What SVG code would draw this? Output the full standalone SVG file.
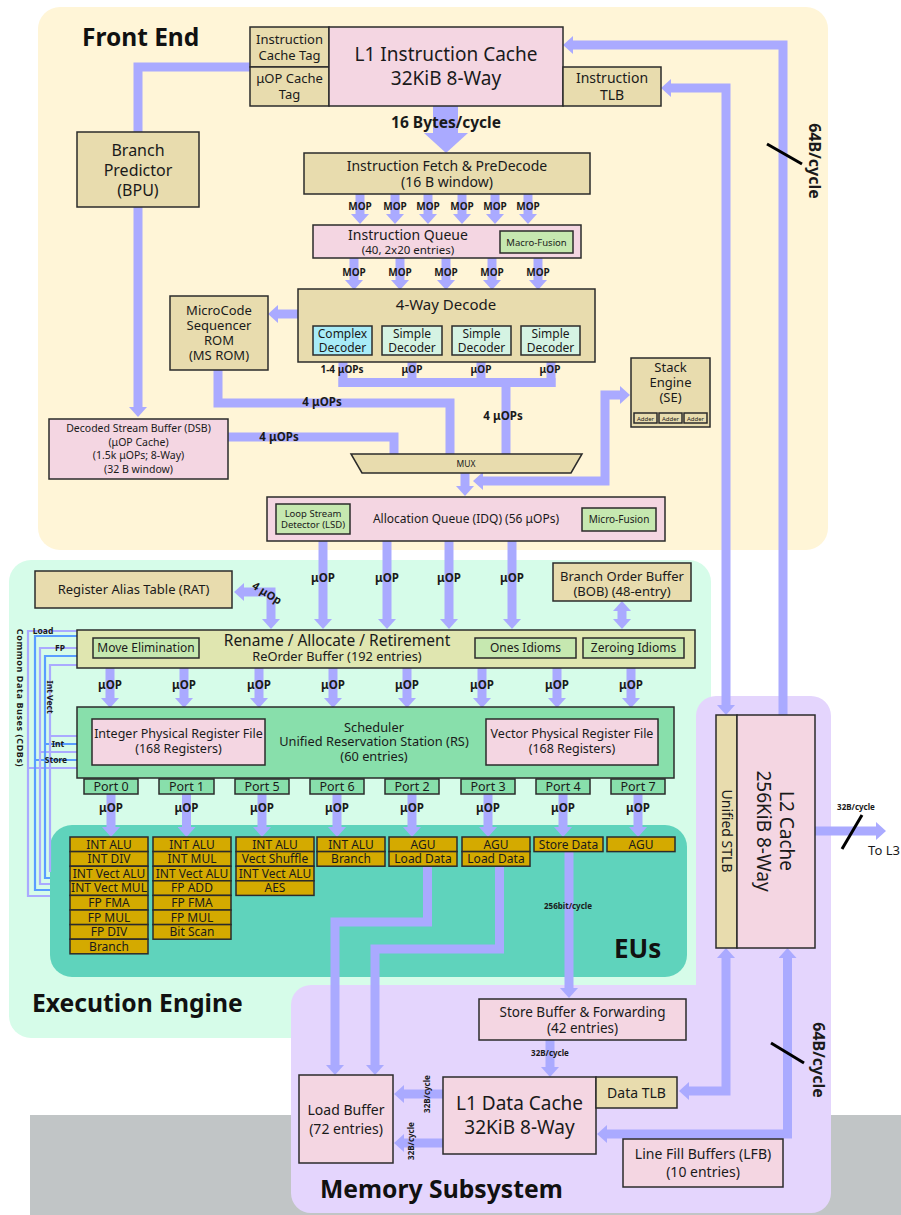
<svg xmlns="http://www.w3.org/2000/svg" width="901" height="1215" viewBox="0 0 901 1215">
<style>
text{font-family:"Noto Sans","DejaVu Sans",sans-serif;fill:#1a1a1a;text-anchor:middle}
.b{font-weight:700}
.s{stroke:#2b2b2b;stroke-width:1.5}
.tan{fill:#e8dcae}
.pink{fill:#f4d6e2}
.grn{fill:#c6e8b0}
.eu rect{fill:#d4aa00;stroke:#2b2b2b;stroke-width:1.5}
.eu text{font-size:12px}
.c{fill:none;stroke:#aaf;stroke-width:9;stroke-linejoin:miter}
.a{marker-end:url(#ah)}
.aa{marker-start:url(#ah);marker-end:url(#ah)}
.cdb{fill:none;stroke-width:2.2}
.lv{stroke:#aaf}
.bl{stroke:#5a9dff}
.sl{stroke:#000;stroke-width:3}
.port{fill:#88dfab;stroke:#2b2b2b;stroke-width:1.5}
.ttl{font-weight:700;text-anchor:start;fill:#111}
</style>
<defs>
<marker id="ah" markerUnits="userSpaceOnUse" markerWidth="10" markerHeight="18" viewBox="0 0 10 18" refX="0" refY="9" orient="auto-start-reverse">
<path d="M0,0 L10,9 L0,18 Z" fill="#aaf"/>
</marker>
</defs>

<!-- background regions -->
<g id="regions">
<rect x="30" y="1115" width="871" height="100" fill="#c1c5c6"/>
<rect x="38" y="7" width="790" height="543" rx="22" fill="#fff5d7"/>
<rect x="9" y="560" width="702" height="478" rx="22" fill="#d6fce9"/>
<rect x="50" y="825" width="637" height="152" rx="22" fill="#5fd3bc"/>
<path d="M716,696 H811 A20,20 0 0 1 831,716 V1193 A20,20 0 0 1 811,1213 H311 A20,20 0 0 1 291,1193 V1005 A20,20 0 0 1 311,985 H696 V716 A20,20 0 0 1 716,696 Z" fill="#e4d5fd"/>
<text class="ttl" x="82" y="46" font-size="24.5">Front End</text>
<text class="ttl" x="32" y="1012" font-size="24.7">Execution Engine</text>
<text class="ttl" x="320" y="1198" font-size="24.7">Memory Subsystem</text>
<text class="ttl" x="614" y="958" font-size="26">EUs</text>
</g>

<!-- connectors -->
<g id="connectors">
<!-- front end -->
<path class="c" d="M138,132 V67 H250" stroke-width="10"/>
<path class="c a" d="M138,207 V407" stroke-width="10"/>
<rect x="433" y="106" width="25" height="28" fill="#aaf"/>
<polygon points="424,133 468,133 446,153" fill="#aaf"/>
<path class="c a" d="M360,194 V214"/><path class="c a" d="M395,194 V214"/><path class="c a" d="M428,194 V214"/>
<path class="c a" d="M462,194 V214"/><path class="c a" d="M495,194 V214"/><path class="c a" d="M528,194 V214"/>
<path class="c a" d="M354,258 V280"/><path class="c a" d="M400,258 V280"/><path class="c a" d="M446,258 V280"/>
<path class="c a" d="M492,258 V280"/><path class="c a" d="M538,258 V280"/>
<path class="c a" d="M298,314 H278"/>
<path class="c" d="M218,370 V403 H450 V454"/>
<path class="c" d="M228,437 H394 V454"/>
<path class="c" d="M343,362 V387 M412,362 V387 M481,362 V387 M551,362 V387"/>
<path class="c" d="M338.5,382.5 H555.5"/>
<path class="c" d="M506,382 V454"/>
<path class="c a" d="M465,473 V486"/>
<path class="c aa" d="M483,481 H605 V395 H620"/>
<path class="c a" d="M783,715 V45 H573" stroke-width="8.5"/>
<path class="c aa" d="M726,705 V88 H671" stroke-width="8.5"/>
<!-- execution engine -->
<path class="c a" d="M323,541 V619"/><path class="c a" d="M387,541 V619"/>
<path class="c a" d="M449,541 V619"/><path class="c a" d="M512,541 V619"/>
<path class="c aa" d="M271,619 V592 H244" stroke-width="10"/>
<path class="c aa" d="M622,611 V619" stroke-width="8"/>
<path class="c a" d="M110,668 V698"/><path class="c a" d="M184,668 V698"/><path class="c a" d="M259,668 V698"/>
<path class="c a" d="M333,668 V698"/><path class="c a" d="M407,668 V698"/><path class="c a" d="M482,668 V698"/>
<path class="c a" d="M557,668 V698"/><path class="c a" d="M631,668 V698"/>
<path class="c a" d="M111,794 V827"/><path class="c a" d="M186.5,794 V827"/><path class="c a" d="M262,794 V827"/>
<path class="c a" d="M337,794 V827"/><path class="c a" d="M412,794 V827"/><path class="c a" d="M488,794 V827"/>
<path class="c a" d="M563,794 V827"/><path class="c a" d="M638,794 V827"/>
<!-- common data buses -->
<path class="cdb lv" d="M77,631 H28 V896 H50 M28,768 H77"/>
<path class="cdb bl" d="M77,636 H35 V890 H50 M35,760 H77"/>
<path class="cdb lv" d="M77,648 H40 V884 H50 M40,752 H77"/>
<path class="cdb bl" d="M77,656 H45 V878 H50 M45,744 H77"/>
<path class="cdb lv" d="M77,665 H50 V872 M50,736 H77"/>
<!-- load / store paths -->
<path class="c a" d="M427.5,867 V922 H335 V1065"/>
<path class="c a" d="M499.5,867 V949 H375 V1065"/>
<path class="c a" d="M569,852 V988"/>
<path class="c a" d="M550,1040 V1067"/>
<path class="c a" d="M443,1094 H404"/>
<path class="c a" d="M443,1143 H404"/>
<path class="c aa" d="M726,958 V1091 H689" stroke-width="8.5"/>
<path class="c aa" d="M787.5,958 V1134 H607" stroke-width="8.5"/>
<path class="c a" d="M815,831 H876"/>
<!-- bandwidth slashes -->
<line class="sl" x1="767" y1="144" x2="802" y2="164"/>
<line class="sl" x1="771" y1="1043" x2="804" y2="1063"/>
<line class="sl" x1="862" y1="815" x2="842" y2="849" stroke-width="2.5"/>
<!-- connector labels -->
<text class="b" x="446" y="128" font-size="15.5">16 Bytes/cycle</text>
<g class="b" font-size="10">
<text x="360" y="210">MOP</text><text x="395" y="210">MOP</text><text x="428" y="210">MOP</text>
<text x="462" y="210">MOP</text><text x="495" y="210">MOP</text><text x="528" y="210">MOP</text>
<text x="354" y="276">MOP</text><text x="400" y="276">MOP</text><text x="446" y="276">MOP</text>
<text x="492" y="276">MOP</text><text x="538" y="276">MOP</text>
<text x="342" y="373">1-4 μOPs</text><text x="412" y="373">μOP</text>
<text x="481" y="373">μOP</text><text x="550" y="373">μOP</text>
</g>
<g class="b" font-size="11.5">
<text x="322" y="406">4 μOPs</text>
<text x="279" y="441">4 μOPs</text>
<text x="503" y="420">4 μOPs</text>
<text x="323" y="582">μOP</text><text x="387" y="582">μOP</text>
<text x="449" y="582">μOP</text><text x="512" y="582">μOP</text>
<text x="110" y="689">μOP</text><text x="184" y="689">μOP</text><text x="259" y="689">μOP</text>
<text x="333" y="689">μOP</text><text x="407" y="689">μOP</text><text x="482" y="689">μOP</text>
<text x="557" y="689">μOP</text><text x="631" y="689">μOP</text>
<text x="111" y="812">μOP</text><text x="186.5" y="812">μOP</text><text x="262" y="812">μOP</text>
<text x="337" y="812">μOP</text><text x="412" y="812">μOP</text><text x="488" y="812">μOP</text>
<text x="563" y="812">μOP</text><text x="638" y="812">μOP</text>
</g>
<text class="b" font-size="11" transform="translate(267,593) rotate(32)" y="4">4 μOp</text>
<text class="b" font-size="16" transform="translate(815,161) rotate(90)" y="6">64B/cycle</text>
<text class="b" font-size="16" transform="translate(819,1060) rotate(90)" y="6">64B/cycle</text>
<g class="b" font-size="8.5">
<text x="43" y="634">Load</text>
<text x="60" y="651">FP</text>
<text x="58" y="747">Int</text>
<text x="56" y="763">Store</text>
<text transform="translate(50,697) rotate(90)" y="3">Int Vect</text>
<text transform="translate(20,698) rotate(90)" y="3" font-size="9" letter-spacing="0.6">Common Data Buses (CDBs)</text>
</g>
<g class="b" font-size="8">
<text x="568" y="909" fill="#333">256bit/cycle</text>
<text x="550" y="1056">32B/cycle</text>
<text transform="translate(427,1094) rotate(-90)" y="3">32B/cycle</text>
<text transform="translate(411,1141) rotate(-90)" y="3">32B/cycle</text>
<text x="856" y="810">32B/cycle</text>
</g>
<text x="884" y="855" font-size="13">To L3</text>
</g>

<!-- front end blocks -->
<g id="ic-tag"><rect class="s tan" x="250" y="27" width="79" height="40"/>
<text x="289.5" y="44" font-size="13">Instruction</text><text x="289.5" y="60" font-size="13">Cache Tag</text></g>
<g id="uop-tag"><rect class="s tan" x="250" y="67" width="79" height="39"/>
<text x="289.5" y="83" font-size="13">μOP Cache</text><text x="289.5" y="99" font-size="13">Tag</text></g>
<g id="l1i"><rect class="s pink" x="329" y="27" width="234" height="79"/>
<text x="446" y="61" font-size="19">L1 Instruction Cache</text><text x="446" y="85" font-size="19">32KiB 8-Way</text></g>
<g id="itlb"><rect class="s tan" x="563" y="67" width="98" height="39"/>
<text x="612" y="83" font-size="14">Instruction</text><text x="612" y="100" font-size="14">TLB</text></g>
<g id="bpu"><rect class="s tan" x="77" y="132" width="122" height="75"/>
<text x="138" y="156" font-size="16">Branch</text><text x="138" y="176" font-size="16">Predictor</text><text x="138" y="196" font-size="16">(BPU)</text></g>
<g id="fetch"><rect class="s tan" x="304" y="153" width="286" height="41"/>
<text x="447" y="171" font-size="14">Instruction Fetch &amp; PreDecode</text><text x="447" y="187" font-size="14">(16 B window)</text></g>
<g id="iq"><rect class="s pink" x="313" y="225" width="268" height="33"/>
<text x="408" y="239.5" font-size="14">Instruction Queue</text><text x="408" y="253.5" font-size="11.5">(40, 2x20 entries)</text>
<rect class="s grn" x="500" y="231" width="73" height="22"/><text x="536.5" y="245.5" font-size="9.5">Macro-Fusion</text></g>
<g id="decode"><rect class="s tan" x="298" y="289" width="297" height="73"/>
<text x="446" y="310" font-size="15">4-Way Decode</text>
<rect class="s" fill="#a8ecf8" x="313" y="326" width="59" height="29"/>
<text x="342.5" y="338" font-size="12">Complex</text><text x="342.5" y="352" font-size="12">Decoder</text>
<rect class="s" fill="#d5f3e3" x="382" y="326" width="60" height="29"/>
<text x="412" y="338" font-size="12">Simple</text><text x="412" y="352" font-size="12">Decoder</text>
<rect class="s" fill="#d5f3e3" x="452" y="326" width="59" height="29"/>
<text x="481.5" y="338" font-size="12">Simple</text><text x="481.5" y="352" font-size="12">Decoder</text>
<rect class="s" fill="#d5f3e3" x="521" y="326" width="59" height="29"/>
<text x="550.5" y="338" font-size="12">Simple</text><text x="550.5" y="352" font-size="12">Decoder</text></g>
<g id="msrom"><rect class="s tan" x="170" y="296" width="98" height="74"/>
<text x="219" y="315" font-size="13">MicroCode</text><text x="219" y="330" font-size="13">Sequencer</text>
<text x="219" y="345" font-size="13">ROM</text><text x="219" y="360" font-size="13">(MS ROM)</text></g>
<g id="dsb"><rect class="s pink" x="49" y="419" width="179" height="60"/>
<text x="138.5" y="432" font-size="10.5">Decoded Stream Buffer (DSB)</text><text x="138.5" y="446" font-size="10.5">(μOP Cache)</text>
<text x="138.5" y="459" font-size="10.5">(1.5k μOPs; 8-Way)</text><text x="138.5" y="473" font-size="10.5">(32 B window)</text></g>
<g id="mux"><polygon class="s tan" points="351,454 582,454 571,473 362,473"/>
<text x="466" y="467" font-size="8.5">MUX</text></g>
<g id="stack-engine"><rect class="s tan" x="631" y="358" width="79" height="69"/>
<text x="670.5" y="372" font-size="13">Stack</text><text x="670.5" y="387" font-size="13">Engine</text><text x="670.5" y="402" font-size="13">(SE)</text>
<rect class="s tan" x="634" y="413" width="23" height="10" stroke-width="1"/><text x="645.5" y="420.5" font-size="6">Adder</text>
<rect class="s tan" x="659" y="413" width="23" height="10" stroke-width="1"/><text x="670.5" y="420.5" font-size="6">Adder</text>
<rect class="s tan" x="684" y="413" width="23" height="10" stroke-width="1"/><text x="695.5" y="420.5" font-size="6">Adder</text></g>
<g id="idq"><rect class="s pink" x="267" y="497" width="398" height="44"/>
<text x="466" y="523" font-size="12">Allocation Queue (IDQ) (56 μOPs)</text>
<rect class="s grn" x="276" y="504" width="74" height="30"/>
<text x="313" y="517" font-size="9.5">Loop Stream</text><text x="313" y="528" font-size="9.5">Detector (LSD)</text>
<rect class="s grn" x="582" y="508" width="74" height="23"/><text x="619" y="523" font-size="10">Micro-Fusion</text></g>

<!-- execution engine blocks -->
<g id="rat"><rect class="s tan" x="35" y="571" width="197" height="37"/>
<text x="133.5" y="594" font-size="13">Register Alias Table (RAT)</text></g>
<g id="bob"><rect class="s tan" x="553" y="563" width="138" height="38"/>
<text x="622" y="581" font-size="13">Branch Order Buffer</text><text x="622" y="596" font-size="13">(BOB) (48-entry)</text></g>
<g id="rob"><rect class="s" fill="#e0e6b0" x="77" y="630" width="618" height="38"/>
<text x="337" y="645.5" font-size="15.5">Rename / Allocate / Retirement</text>
<text x="337" y="661" font-size="12.8">ReOrder Buffer (192 entries)</text>
<rect class="s grn" x="93" y="638" width="106" height="20"/><text x="146" y="652" font-size="12">Move Elimination</text>
<rect class="s grn" x="475" y="638" width="101" height="20"/><text x="525.5" y="652" font-size="12">Ones Idioms</text>
<rect class="s grn" x="583" y="638" width="101" height="20"/><text x="633.5" y="652" font-size="12">Zeroing Idioms</text></g>
<g id="rs"><rect class="s" fill="#88dfab" x="77" y="707" width="597" height="71"/>
<text x="374" y="731.5" font-size="12.8">Scheduler</text>
<text x="374" y="746" font-size="12.8">Unified Reservation Station (RS)</text>
<text x="374" y="760.5" font-size="12.8">(60 entries)</text>
<rect class="s pink" x="92" y="719" width="173" height="46"/>
<text x="178.5" y="738" font-size="12.5">Integer Physical Register File</text><text x="178.5" y="753" font-size="12.5">(168 Registers)</text>
<rect class="s pink" x="486" y="719" width="172" height="46"/>
<text x="572" y="738" font-size="12.5">Vector Physical Register File</text><text x="572" y="753" font-size="12.5">(168 Registers)</text></g>
<g id="ports" font-size="12.5">
<rect class="port" x="84" y="779" width="54" height="15"/><text x="111" y="791">Port 0</text>
<rect class="port" x="159" y="779" width="55" height="15"/><text x="186.5" y="791">Port 1</text>
<rect class="port" x="235" y="779" width="54" height="15"/><text x="262" y="791">Port 5</text>
<rect class="port" x="310" y="779" width="54" height="15"/><text x="337" y="791">Port 6</text>
<rect class="port" x="385" y="779" width="54" height="15"/><text x="412" y="791">Port 2</text>
<rect class="port" x="461" y="779" width="54" height="15"/><text x="488" y="791">Port 3</text>
<rect class="port" x="536" y="779" width="54" height="15"/><text x="563" y="791">Port 4</text>
<rect class="port" x="611" y="779" width="54" height="15"/><text x="638" y="791">Port 7</text>
</g>
<g id="eu-port0" class="eu">
<rect x="70" y="837" width="78" height="14.6"/><text x="109" y="848.5">INT ALU</text>
<rect x="70" y="851.6" width="78" height="14.6"/><text x="109" y="863.1">INT DIV</text>
<rect x="70" y="866.2" width="78" height="14.6"/><text x="109" y="877.7">INT Vect ALU</text>
<rect x="70" y="880.8" width="78" height="14.6"/><text x="109" y="892.3">INT Vect MUL</text>
<rect x="70" y="895.4" width="78" height="14.6"/><text x="109" y="906.9">FP FMA</text>
<rect x="70" y="910" width="78" height="14.6"/><text x="109" y="921.5">FP MUL</text>
<rect x="70" y="924.6" width="78" height="14.6"/><text x="109" y="936.1">FP DIV</text>
<rect x="70" y="939.2" width="78" height="14.6"/><text x="109" y="950.7">Branch</text>
</g>
<g id="eu-port1" class="eu">
<rect x="153" y="837" width="78" height="14.6"/><text x="192" y="848.5">INT ALU</text>
<rect x="153" y="851.6" width="78" height="14.6"/><text x="192" y="863.1">INT MUL</text>
<rect x="153" y="866.2" width="78" height="14.6"/><text x="192" y="877.7">INT Vect ALU</text>
<rect x="153" y="880.8" width="78" height="14.6"/><text x="192" y="892.3">FP ADD</text>
<rect x="153" y="895.4" width="78" height="14.6"/><text x="192" y="906.9">FP FMA</text>
<rect x="153" y="910" width="78" height="14.6"/><text x="192" y="921.5">FP MUL</text>
<rect x="153" y="924.6" width="78" height="14.6"/><text x="192" y="936.1">Bit Scan</text>
</g>
<g id="eu-port5" class="eu">
<rect x="236" y="837" width="78" height="14.6"/><text x="275" y="848.5">INT ALU</text>
<rect x="236" y="851.6" width="78" height="14.6"/><text x="275" y="863.1">Vect Shuffle</text>
<rect x="236" y="866.2" width="78" height="14.6"/><text x="275" y="877.7">INT Vect ALU</text>
<rect x="236" y="880.8" width="78" height="14.6"/><text x="275" y="892.3">AES</text>
</g>
<g id="eu-port6" class="eu">
<rect x="317" y="837" width="68" height="14.6"/><text x="351" y="848.5">INT ALU</text>
<rect x="317" y="851.6" width="68" height="14.6"/><text x="351" y="863.1">Branch</text>
</g>
<g id="eu-port2" class="eu">
<rect x="389" y="837" width="68" height="14.6"/><text x="423" y="848.5">AGU</text>
<rect x="389" y="851.6" width="68" height="14.6"/><text x="423" y="863.1">Load Data</text>
</g>
<g id="eu-port3" class="eu">
<rect x="462" y="837" width="68" height="14.6"/><text x="496" y="848.5">AGU</text>
<rect x="462" y="851.6" width="68" height="14.6"/><text x="496" y="863.1">Load Data</text>
</g>
<g id="eu-port4" class="eu">
<rect x="534" y="837" width="69" height="14.6"/><text x="568.5" y="848.5">Store Data</text>
</g>
<g id="eu-port7" class="eu">
<rect x="607" y="837" width="68" height="14.6"/><text x="641" y="848.5">AGU</text>
</g>

<!-- memory subsystem blocks -->
<g id="stlb"><rect class="s tan" x="716" y="715" width="21" height="233"/>
<text transform="translate(727,831) rotate(90)" y="5" font-size="14">Unified STLB</text></g>
<g id="l2"><rect class="s pink" x="737" y="715" width="78" height="233"/>
<text transform="translate(776,831) rotate(90)" y="-4" font-size="19">L2 Cache</text>
<text transform="translate(776,831) rotate(90)" y="19" font-size="19">256KiB 8-Way</text></g>
<g id="store-buffer"><rect class="s pink" x="479" y="999" width="207" height="41"/>
<text x="582.5" y="1017" font-size="13.5">Store Buffer &amp; Forwarding</text><text x="582.5" y="1033" font-size="13.5">(42 entries)</text></g>
<g id="l1d"><rect class="s pink" x="443" y="1077" width="153" height="77"/>
<text x="519.5" y="1110" font-size="19">L1 Data Cache</text><text x="519.5" y="1134" font-size="19">32KiB 8-Way</text></g>
<g id="dtlb"><rect class="s tan" x="596" y="1077" width="81" height="31"/>
<text x="636.5" y="1098" font-size="14">Data TLB</text></g>
<g id="load-buffer"><rect class="s pink" x="299" y="1075" width="94" height="88"/>
<text x="346" y="1115" font-size="14">Load Buffer</text><text x="346" y="1134" font-size="14">(72 entries)</text></g>
<g id="lfb"><rect class="s pink" x="623" y="1139" width="160" height="48"/>
<text x="703" y="1159" font-size="14">Line Fill Buffers (LFB)</text><text x="703" y="1177" font-size="14">(10 entries)</text></g>
</svg>
